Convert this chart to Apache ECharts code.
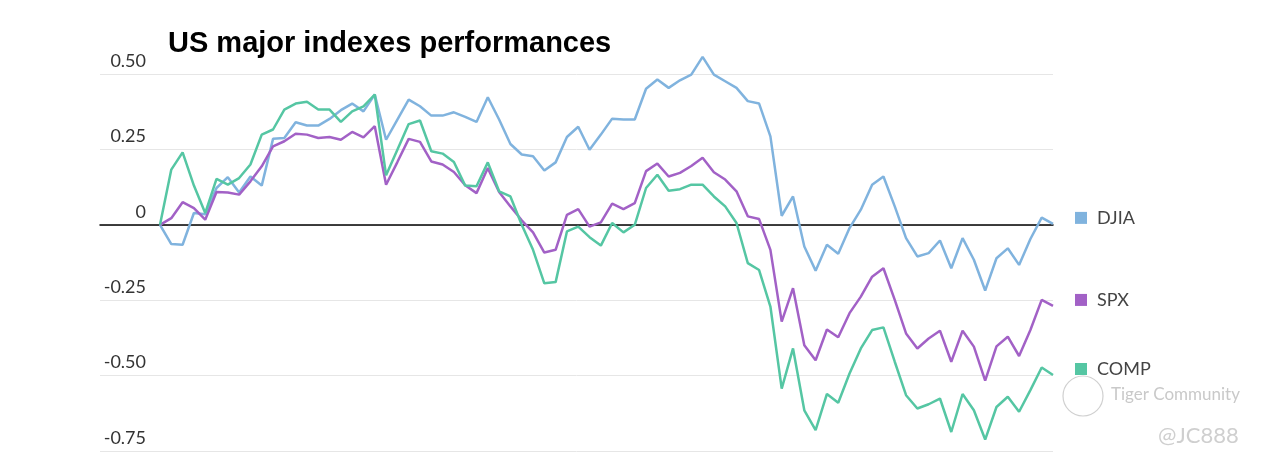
<!DOCTYPE html>
<html>
<head>
<meta charset="utf-8">
<script src="https://cdn.jsdelivr.net/npm/echarts@6/dist/echarts.min.js"></script>
<style>
html,body{margin:0;padding:0;background:#fff;}
#chart{width:1265px;height:465px;}
</style>
</head>
<body>
<div id="chart"></div>
<script>
const titleText = 'US major indexes performances';
const categories = Array.from({length: 80}, (_, i) => 'D' + (i + 1));
const yTicks = [-0.75, -0.5, -0.25, 0, 0.25, 0.5];
const yTickLabels = ['-0.75', '-0.50', '-0.25', '0', '0.25', '0.50'];

const djia = [0, -0.064, -0.066, 0.039, 0.035, 0.122, 0.158, 0.107, 0.16, 0.13,
  0.285, 0.288, 0.34, 0.329, 0.329, 0.351, 0.38, 0.402, 0.376, 0.432,
  0.282, 0.349, 0.415, 0.393, 0.362, 0.362, 0.373, 0.358, 0.341, 0.423,
  0.349, 0.268, 0.233, 0.227, 0.18, 0.207, 0.291, 0.325, 0.249, 0.299,
  0.352, 0.349, 0.349, 0.451, 0.482, 0.454, 0.479, 0.498, 0.557, 0.498,
  0.476, 0.454, 0.41, 0.402, 0.293, 0.03, 0.094, -0.072, -0.152, -0.066,
  -0.096, -0.011, 0.05, 0.133, 0.16, 0.061, -0.044, -0.105, -0.094, -0.052,
  -0.144, -0.044, -0.116, -0.218, -0.111, -0.078, -0.133, -0.047, 0.024, 0.003];

const spx = [0, 0.022, 0.075, 0.055, 0.017, 0.109, 0.107, 0.1, 0.144, 0.194,
  0.26, 0.277, 0.302, 0.299, 0.288, 0.291, 0.282, 0.308, 0.29, 0.327,
  0.133, 0.208, 0.285, 0.275, 0.21, 0.2, 0.175, 0.131, 0.105, 0.188,
  0.109, 0.061, 0.015, -0.025, -0.092, -0.083, 0.033, 0.052, -0.006, 0.008,
  0.07, 0.052, 0.072, 0.178, 0.203, 0.16, 0.172, 0.195, 0.222, 0.174,
  0.15, 0.111, 0.028, 0.019, -0.083, -0.321, -0.21, -0.399, -0.449, -0.347,
  -0.373, -0.293, -0.238, -0.172, -0.144, -0.249, -0.36, -0.41, -0.377, -0.351,
  -0.454, -0.351, -0.404, -0.517, -0.403, -0.371, -0.435, -0.349, -0.249, -0.269];

const comp = [0, 0.183, 0.24, 0.13, 0.039, 0.152, 0.133, 0.155, 0.2, 0.299,
  0.316, 0.382, 0.402, 0.408, 0.382, 0.382, 0.341, 0.376, 0.393, 0.432,
  0.164, 0.249, 0.334, 0.346, 0.244, 0.236, 0.208, 0.13, 0.128, 0.207,
  0.111, 0.094, 0.0, -0.083, -0.194, -0.19, -0.022, -0.006, -0.041, -0.069,
  0.006, -0.025, 0, 0.122, 0.166, 0.113, 0.118, 0.133, 0.133, 0.094,
  0.061, 0.006, -0.127, -0.15, -0.271, -0.543, -0.41, -0.615, -0.681, -0.561,
  -0.59, -0.493, -0.41, -0.349, -0.34, -0.454, -0.565, -0.609, -0.595, -0.576,
  -0.687, -0.561, -0.615, -0.712, -0.604, -0.57, -0.62, -0.548, -0.473, -0.498];

const seriesNames = ['DJIA', 'SPX', 'COMP'];
const seriesColors = ['#80b3de', '#a261c6', '#55c6a3'];
const seriesData = [djia, spx, comp];

const chart = echarts.init(document.getElementById('chart'), null, {renderer: 'canvas'});

function makeSeries(idx) {
  const c = seriesColors[idx];
  return {
    name: seriesNames[idx],
    type: 'line',
    xAxisIndex: 1,
    yAxisIndex: 1,
    data: seriesData[idx],
    symbol: 'none',
    smooth: false,
    clip: false,
    lineStyle: {color: c, width: 2.5},
    itemStyle: {color: c},
    z: 3 + idx,
    endLabel: {
      show: true,
      distance: 22,
      offset: [0, -6],
      formatter: '{box|}{t|{a}}',
      rich: {
        box: {width: 12, height: 12, backgroundColor: c},
        t: {fontFamily: 'Lato', fontSize: 18, color: '#444', padding: [0, 0, 0, 10]}
      }
    }
  };
}

chart.setOption({
  animation: false,
  backgroundColor: '#fff',
  title: {
    text: titleText,
    left: 163,
    top: 24,
    textStyle: {fontFamily: 'Liberation Sans', fontWeight: 'bold', fontSize: 29, color: '#000'}
  },
  grid: [
    {left: 100, right: 212, top: 74, bottom: 14},
    {left: 160, right: 212, top: 74, bottom: 14}
  ],
  xAxis: [
    {
      gridIndex: 0, type: 'value', min: 0, max: 1,
      axisLine: {show: true, onZero: true, lineStyle: {color: '#000', width: 1.5}},
      axisTick: {show: false}, axisLabel: {show: false}, splitLine: {show: false}
    },
    {
      gridIndex: 1, type: 'category', data: categories, boundaryGap: false,
      axisLine: {show: false}, axisTick: {show: false}, axisLabel: {show: false}, splitLine: {show: false}
    }
  ],
  yAxis: [
    {
      gridIndex: 0, type: 'value', min: -0.75, max: 0.5, interval: 0.25,
      axisLine: {show: false}, axisTick: {show: false},
      splitLine: {show: true, lineStyle: {color: '#e6e6e6', width: 1}},
      axisLabel: {
        inside: true, margin: 46, align: 'right', verticalAlign: 'bottom',
        padding: [0, 0, 4, 0],
        fontFamily: 'Lato', fontSize: 18, color: '#333',
        formatter: function (v) {
          const k = yTicks.findIndex(t => Math.abs(t - v) < 1e-9);
          return k >= 0 ? yTickLabels[k] : '';
        }
      }
    },
    {
      gridIndex: 1, type: 'value', min: -0.75, max: 0.5, interval: 0.25,
      show: false, splitLine: {show: false}
    }
  ],
  graphic: [
    {type: 'circle', shape: {cx: 1083, cy: 396, r: 20}, style: {fill: 'none', stroke: '#d0d0d0', lineWidth: 1.2}, z: 1},
    {type: 'text', left: 1111, top: 386, style: {text: 'Tiger Community', fontFamily: 'Lato', fontSize: 17, fill: '#c9c9c9'}, z: 1},
    {type: 'text', left: 1158, top: 425, style: {text: '@JC888', fontFamily: 'Lato', fontSize: 22, fill: '#cfcfcf'}, z: 1}
  ],
  series: [makeSeries(0), makeSeries(1), makeSeries(2)]
});
</script>
</body>
</html>
